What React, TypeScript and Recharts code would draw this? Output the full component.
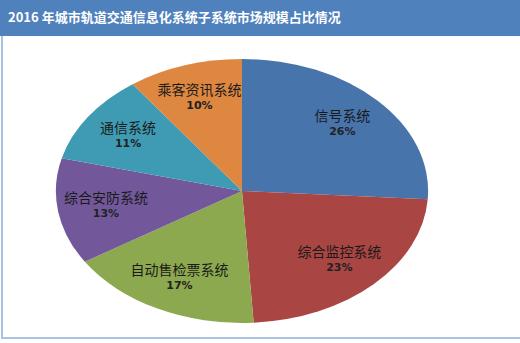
import { PieChart, Pie, Cell } from 'recharts';

/* -------------------------------------------------------------------------- */
/*  Data                                                                      */
/* -------------------------------------------------------------------------- */

const names = ['信号系统', '综合监控系统', '自动售检票系统', '综合安防系统', '通信系统', '乘客资讯系统'];
const shares = [26, 23, 17, 13, 11, 10];
const colors = ['#4874AC', '#A94543', '#8DA94F', '#72589A', '#3F9BB3', '#DE8740'];

const data = names.map((name, i) => ({ name, value: shares[i] }));

const TITLE = '2016 年城市轨道交通信息化系统子系统市场规模占比情况';

/* the Excel pie is an ellipse: draw a circle and stretch it horizontally */
const SX = 1.41;
const RADIUS = 132;
const RAD = Math.PI / 180;

/* -------------------------------------------------------------------------- */
/*  Label (counter-scaled so text is not stretched)                           */
/* -------------------------------------------------------------------------- */

function SliceLabel(props: any) {
  const { cx, cy, midAngle, outerRadius, name, value } = props;
  const r = outerRadius * 0.74;
  const x = cx + r * Math.cos(-midAngle * RAD);
  const y = cy + r * Math.sin(-midAngle * RAD);
  return (
    <g transform={`translate(${x},${y}) scale(${1 / SX},1)`}>
      <text
        x={0}
        y={-3}
        textAnchor="middle"
        fill="#1a1a1a"
        fontSize={14}
        fontFamily="'Noto Sans CJK SC', sans-serif"
      >
        {name}
      </text>
      <text
        x={0}
        y={11}
        textAnchor="middle"
        fill="#222"
        fontSize={11}
        fontWeight="bold"
        fontFamily="'DejaVu Sans', sans-serif"
      >
        {value}%
      </text>
    </g>
  );
}

/* -------------------------------------------------------------------------- */
/*  Component                                                                 */
/* -------------------------------------------------------------------------- */

export default function App() {
  return (
    <div
      style={{
        position: 'absolute',
        left: 0,
        top: 0,
        width: 520,
        height: 343,
        background: '#fff',
        overflow: 'hidden',
      }}
    >
      <div
        style={{
          position: 'absolute',
          left: 0,
          top: 0,
          width: 520,
          height: 343,
          transform: `scaleX(${SX})`,
          transformOrigin: '0 0',
        }}
      >
        <PieChart width={520 / SX} height={343} margin={{ top: 0, right: 0, bottom: 0, left: 0 }}>
          <Pie
            data={data}
            dataKey="value"
            nameKey="name"
            cx={242 / SX}
            cy={191}
            outerRadius={RADIUS}
            startAngle={90}
            endAngle={-270}
            stroke="none"
            label={<SliceLabel />}
            labelLine={false}
            isAnimationActive={false}
          >
            {data.map((d, i) => (
              <Cell key={d.name} fill={colors[i]} />
            ))}
          </Pie>
        </PieChart>
      </div>

      {/* title bar */}
      <div
        style={{
          position: 'absolute',
          left: 0,
          top: 0,
          width: 520,
          height: 36,
          background: '#4F81BD',
          color: '#fff',
          fontFamily: "'Noto Sans CJK SC', sans-serif",
          fontWeight: 'bold',
          fontSize: 13,
          lineHeight: '34px',
          paddingLeft: 8,
          boxSizing: 'border-box',
        }}
      >
        {TITLE}
      </div>

      {/* frame */}
      <div style={{ position: 'absolute', left: 1, top: 36, width: 2, height: 303, background: '#A9C1E3' }} />
      <div style={{ position: 'absolute', left: 1, top: 337, width: 519, height: 2, background: '#A9C1E3' }} />
    </div>
  );
}
